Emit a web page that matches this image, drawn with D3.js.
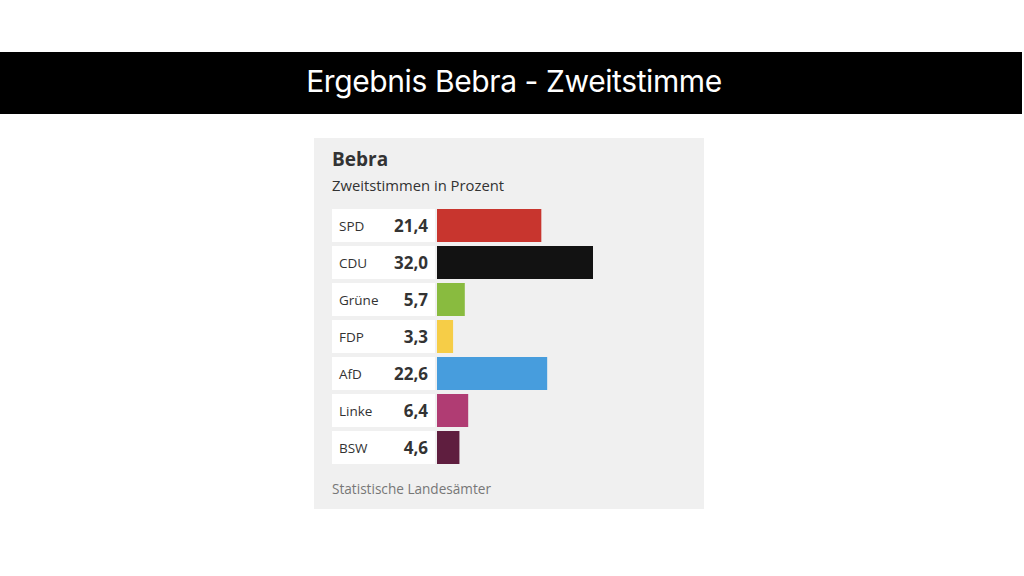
<!DOCTYPE html>
<html>
<head>
<meta charset="utf-8">
<script src="https://cdn.jsdelivr.net/npm/d3@7"></script>
<style>
  body { margin: 0; background: #fff; }
  svg { display: block; }
</style>
</head>
<body>
<div id="chart"></div>
<script>
// Chart data
const PARTIES = ["SPD", "CDU", "Grüne", "FDP", "AfD", "Linke", "BSW"];
const VALUES = [21.4, 32.0, 5.7, 3.3, 22.6, 6.4, 4.6];
const COLORS = ["#c8352e", "#121212", "#89bb3f", "#f6cd47", "#479ddd", "#b03c73", "#5f1e3f"];

const TITLE = "Ergebnis Bebra - Zweitstimme";
const PANEL_TITLE = "Bebra";
const PANEL_SUB = "Zweitstimmen in Prozent";
const SOURCE = "Statistische Landesämter";

// Frame dimensions
const FRAME_WIDTH = 1024;
const FRAME_HEIGHT = 576;
const PANEL = {x: 314, y: 138, w: 390, h: 371};
const ROWS = {top: 209, step: 37, h: 33, labelX: 332, labelW: 103, barX: 437};

const FRAME = d3.select("#chart")
                .append("svg")
                  .attr("width", FRAME_WIDTH)
                  .attr("height", FRAME_HEIGHT);

// Black title banner
FRAME.append("rect")
     .attr("x", 0).attr("y", 52)
     .attr("width", 1022).attr("height", 62)
     .attr("fill", "#000");

FRAME.append("text")
     .attr("x", 514).attr("y", 92)
     .attr("text-anchor", "middle")
     .attr("font-family", "Inter, 'Noto Sans', sans-serif")
     .attr("font-size", 30)
     .attr("letter-spacing", -0.4)
     .attr("fill", "#fff")
     .text(TITLE);

// Grey panel
FRAME.append("rect")
     .attr("x", PANEL.x).attr("y", PANEL.y)
     .attr("width", PANEL.w).attr("height", PANEL.h)
     .attr("fill", "#f0f0f0");

FRAME.append("text")
     .attr("x", 332).attr("y", 166)
     .attr("font-family", "'Open Sans', 'Noto Sans', sans-serif")
     .attr("font-weight", "bold")
     .attr("font-size", 19)
     .attr("fill", "#333")
     .text(PANEL_TITLE);

FRAME.append("text")
     .attr("x", 332).attr("y", 191)
     .attr("font-family", "'Open Sans', 'Noto Sans', sans-serif")
     .attr("font-size", 14.8)
     .attr("fill", "#333")
     .text(PANEL_SUB);

// Scales: bands of height ROWS.h, one every ROWS.step pixels
const Y_SCALE = d3.scaleBand()
                  .domain(PARTIES)
                  .range([ROWS.top, ROWS.top + ROWS.step * (PARTIES.length - 1) + ROWS.h])
                  .paddingInner((ROWS.step - ROWS.h) / ROWS.step)
                  .paddingOuter(0);

const X_SCALE = d3.scaleLinear()
                  .domain([0, 32])
                  .range([0, 156]);

const data = PARTIES.map((p, i) => ({party: p, value: VALUES[i], color: COLORS[i]}));

const rows = FRAME.selectAll(".row")
                  .data(data)
                  .enter()
                  .append("g")
                    .attr("class", "row")
                    .attr("transform", (d) => "translate(0," + Y_SCALE(d.party) + ")");

// White label boxes
rows.append("rect")
    .attr("x", ROWS.labelX)
    .attr("width", ROWS.labelW)
    .attr("height", Y_SCALE.bandwidth())
    .attr("fill", "#fff");

rows.append("text")
    .attr("x", 339)
    .attr("y", Y_SCALE.bandwidth() / 2 + 5)
    .attr("font-family", "'Open Sans', 'Noto Sans', sans-serif")
    .attr("font-size", 13.5)
    .attr("fill", "#333")
    .text((d) => d.party);

rows.append("text")
    .attr("x", 428)
    .attr("y", Y_SCALE.bandwidth() / 2 + 6)
    .attr("text-anchor", "end")
    .attr("font-family", "'Open Sans', 'Noto Sans', sans-serif")
    .attr("font-weight", "bold")
    .attr("font-size", 17)
    .attr("fill", "#333")
    .text((d) => d.value.toFixed(1).replace(".", ","));

// Bars
rows.append("rect")
    .attr("x", ROWS.barX)
    .attr("width", (d) => X_SCALE(d.value))
    .attr("height", Y_SCALE.bandwidth())
    .attr("fill", (d) => d.color);

// Source
FRAME.append("text")
     .attr("x", 332).attr("y", 494)
     .attr("font-family", "'Open Sans', 'Noto Sans', sans-serif")
     .attr("font-size", 13.6)
     .attr("fill", "#777")
     .text(SOURCE);
</script>
</body>
</html>
